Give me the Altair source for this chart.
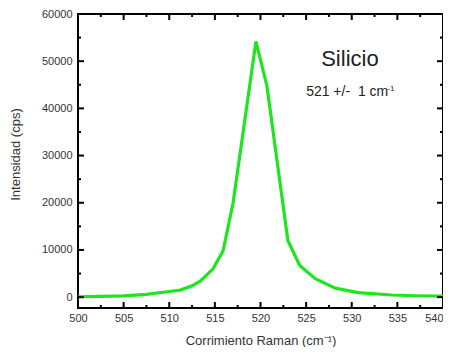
import altair as alt
import pandas as pd

# Raman spectrum
shift = [500, 502.5, 505, 507.5, 510, 511.2, 512.5, 513.4, 514.8, 515.9, 517.0,
         519.5, 520.7, 523.0, 524.3, 526.0, 528.2, 530.7, 534.4, 537.0, 540]
intensity = [80, 160, 280, 600, 1200, 1500, 2400, 3400, 6000, 9800, 20000,
             54200, 44800, 12000, 6700, 3900, 1900, 950, 450, 300, 200]

x_major = [500, 505, 510, 515, 520, 525, 530, 535, 540]
x_minor = [502.5, 507.5, 512.5, 517.5, 522.5, 527.5, 532.5, 537.5]
y_major = [0, 10000, 20000, 30000, 40000, 50000, 60000]
y_minor = [5000, 15000, 25000, 35000, 45000, 55000]

ann_text = ["Silicio", "521 +/-\u00a0\u00a01 cm", "-1"]
ann_x = [529.8, 525.0, 533.9]
ann_y = [49000, 42700, 43700]

W, H = 365, 294
XD = [500, 540]
YD = [-2300, 60000]
TXT = "#333333"
FONT = "Liberation Sans"

df = pd.DataFrame({"x": shift, "y": intensity})
xs = alt.Scale(domain=XD, nice=False, zero=False)
ys = alt.Scale(domain=YD, nice=False, zero=False)

xaxis = alt.Axis(values=x_major, title="Corrimiento Raman (cm⁻¹)", tickSize=0,
                 domain=False, grid=False, labelPadding=4, labelFontSize=11,
                 labelColor=TXT, labelFont=FONT, titleFont=FONT, titleFontSize=13,
                 titleFontWeight="normal", titleColor=TXT, titleY=36,
                 titleBaseline="alphabetic", labelFlush=False, format="d",
                 labelAlign={"condition": {"test": "datum.value >= 540", "value": "right"},
                             "value": "center"})
yaxis = alt.Axis(values=y_major, title="Intensidad (cps)", tickSize=0,
                 domain=False, grid=False, labelPadding=6, labelFontSize=11,
                 labelColor=TXT, labelFont=FONT, titleFont=FONT, titleFontSize=13,
                 titleFontWeight="normal", titleColor=TXT, titleX=-56, titleY=140,
                 labelFlush=False, format="d")

def X():
    return alt.X("x:Q", scale=xs, axis=xaxis)

def Y():
    return alt.Y("y:Q", scale=ys, axis=yaxis)

line = alt.Chart(df).mark_line(color="#1ee61e", strokeWidth=3.2, clip=True).encode(x=X(), y=Y())

def yticks(vals, length):
    d = pd.DataFrame({"y": vals})
    left = alt.Chart(d).mark_rule(color="black", strokeWidth=2).encode(
        y=Y(), x=alt.value(0), x2=alt.value(length))
    right = alt.Chart(d).mark_rule(color="black", strokeWidth=2).encode(
        y=Y(), x=alt.value(W - length), x2=alt.value(W))
    return [left, right]

def xticks(vals, length):
    d = pd.DataFrame({"x": vals})
    bottom = alt.Chart(d).mark_rule(color="black", strokeWidth=2).encode(
        x=X(), y=alt.value(H - length), y2=alt.value(H))
    top = alt.Chart(d).mark_rule(color="black", strokeWidth=2).encode(
        x=X(), y=alt.value(0), y2=alt.value(length))
    return [bottom, top]

ticks = yticks(y_major, 6) + yticks(y_minor, 3) + xticks(x_major, 6) + xticks(x_minor, 3)

ann = pd.DataFrame({"t": ann_text, "x": ann_x, "y": ann_y})

def label(i, size, align):
    return alt.Chart(ann.iloc[[i]]).mark_text(
        font=FONT, fontSize=size, color="#222222", align=align, baseline="alphabetic"
    ).encode(x=X(), y=Y(), text="t:N")

t1 = label(0, 22, "center")
t2 = label(1, 14, "left")
t3 = label(2, 8, "left")

chart = alt.layer(line, *ticks, t1, t2, t3).properties(
    width=W, height=H,
    autosize=alt.AutoSizeParams(type="none"),
    padding={"left": 70, "top": 6, "right": 0, "bottom": 39},
).configure(background="white").configure_view(stroke="black", strokeWidth=2)

chart.save("out.html", embed_options={"renderer": "svg", "actions": False})
